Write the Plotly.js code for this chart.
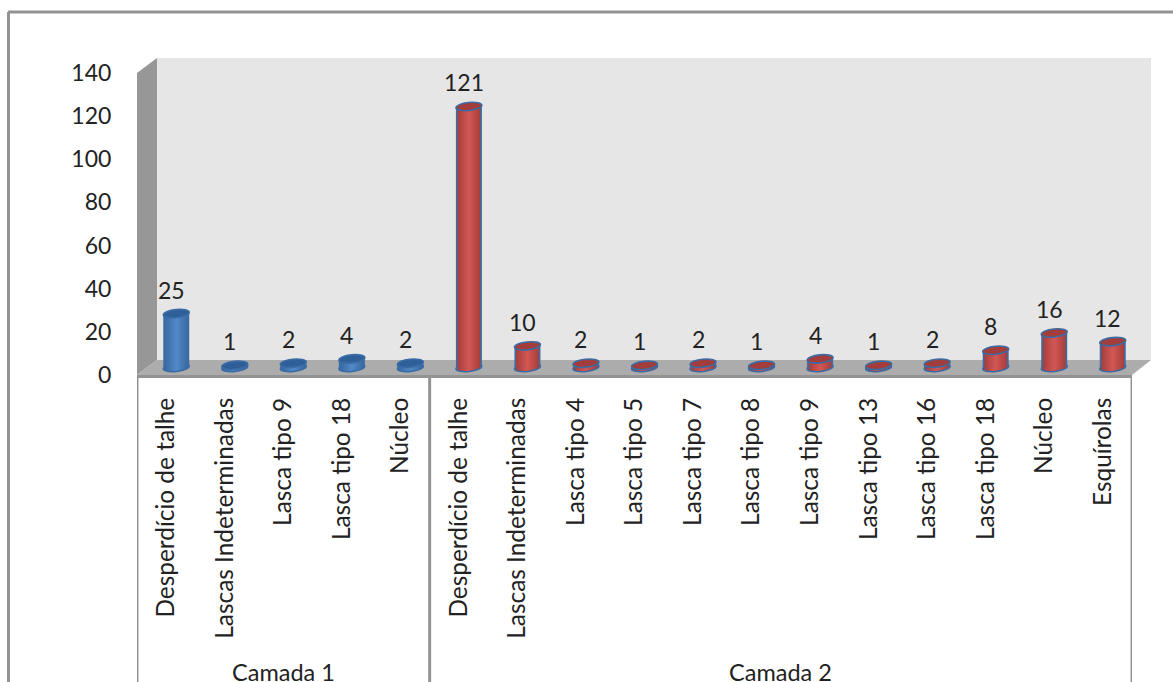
<!DOCTYPE html>
<html>
<head>
<meta charset="utf-8">
<script src="https://cdn.plot.ly/plotly-3.0.1.min.js"></script>
<style>html,body{margin:0;padding:0;background:#fff;overflow:hidden}</style>
</head>
<body>
<div id="chart" style="width:1173px;height:682px"></div>
<script>
// Lithic counts per stratigraphic layer
const layerNames = ["Camada 1", "Camada 2"];
const layer1Labels = ["Desperdício de talhe", "Lascas Indeterminadas", "Lasca tipo 9", "Lasca tipo 18", "Núcleo"];
const layer1Values = [25, 1, 2, 4, 2];
const layer2Labels = ["Desperdício de talhe", "Lascas Indeterminadas", "Lasca tipo 4", "Lasca tipo 5", "Lasca tipo 7", "Lasca tipo 8", "Lasca tipo 9", "Lasca tipo 13", "Lasca tipo 16", "Lasca tipo 18", "Núcleo", "Esquírolas"];
const layer2Values = [121, 10, 2, 1, 2, 1, 4, 1, 2, 8, 16, 12];
const axisTicks = [0, 20, 40, 60, 80, 100, 120, 140];

const W = 1173, H = 682;
const px = v => v / W;
const py = v => (H - v) / H;

const labels = layer1Labels.concat(layer2Labels);
const values = layer1Values.concat(layer2Values);
const indices = labels.map((_, i) => i);
const idx1 = layer1Values.map((_, i) => i);
const idx2 = layer2Values.map((_, i) => i + layer1Values.length);
const lastIndex = labels.length - 0.5;
const splitIndex = layer1Values.length - 0.5;

const font = "Lato, 'Open Sans', sans-serif";
const ink = "#222222";
const edgeGrey = "#939393";

// Tilted ellipse as a bezier path, in pixels around its anchor
function ellipsePath(rx, ry, deg) {
  const a = deg * Math.PI / 180, k = 0.5523;
  const p = (x, y) => (x * Math.cos(a) - y * Math.sin(a)).toFixed(2) + "," + (x * Math.sin(a) + y * Math.cos(a)).toFixed(2);
  return "M" + p(rx, 0) +
    "C" + p(rx, k * ry) + " " + p(k * rx, ry) + " " + p(0, ry) +
    "C" + p(-k * rx, ry) + " " + p(-rx, k * ry) + " " + p(-rx, 0) +
    "C" + p(-rx, -k * ry) + " " + p(-k * rx, -ry) + " " + p(0, -ry) +
    "C" + p(k * rx, -ry) + " " + p(rx, -k * ry) + " " + p(rx, 0) + "Z";
}
const capPath = ellipsePath(13, 4, 6);

function cap(i, v, fill, line, layer) {
  return {
    type: "path", path: capPath, layer: layer,
    xref: "x2", yref: "y2", xsizemode: "pixel", ysizemode: "pixel",
    xanchor: i, yanchor: v,
    fillcolor: fill, line: {color: line, width: 1.6}
  };
}

// Chart frame, the three walls of the 3D box, and the group separators
const frameShapes = [
  {type: "line", xref: "paper", yref: "paper", x0: px(8), x1: 1, y0: py(12), y1: py(12), line: {color: edgeGrey, width: 3}},
  {type: "line", xref: "paper", yref: "paper", x0: px(8.5), x1: px(8.5), y0: py(12), y1: 0, line: {color: edgeGrey, width: 3}},
  {type: "path", xref: "paper", yref: "paper", layer: "below", line: {width: 0}, fillcolor: "#e6e6e6",
   path: `M${px(157)},${py(58)}L${px(1151)},${py(58)}L${px(1151)},${py(360)}L${px(157)},${py(360)}Z`},
  {type: "path", xref: "paper", yref: "paper", layer: "below", line: {width: 0}, fillcolor: "#979797",
   path: `M${px(137)},${py(73)}L${px(157)},${py(58)}L${px(157)},${py(360)}L${px(137)},${py(375)}Z`},
  {type: "path", xref: "paper", yref: "paper", layer: "below", line: {width: 0}, fillcolor: "#acacac",
   path: `M${px(137)},${py(375)}L${px(157)},${py(360)}L${px(1151)},${py(360)}L${px(1132)},${py(375)}Z`}
].concat([-0.5, splitIndex, lastIndex].map(x => ({
  type: "line", xref: "x", yref: "paper", x0: x, x1: x, y0: py(375), y1: 0, line: {color: edgeGrey, width: 3}
})));

const blueLine = "#3a6ba5", blueTop = "#2f5f98", redLine = "#3d6aa0", redTop = "#a23d3b";
const bottomCaps = [];
const topCaps = [];
idx1.forEach(i => { bottomCaps.push(cap(i, 0, "#4f81bd", blueLine, "below")); topCaps.push(cap(i, values[i], blueTop, blueLine, "above")); });
idx2.forEach(i => { bottomCaps.push(cap(i, 0, "#c0504d", redLine, "below")); topCaps.push(cap(i, values[i], redTop, redLine, "above")); });
const shapes = frameShapes.concat(bottomCaps, topCaps);

const valueLabels = indices.map(i => ({
  xref: "x2", yref: "y2", x: i, y: values[i], text: String(values[i]), showarrow: false,
  xshift: -5, yshift: 24, yanchor: "middle", xanchor: "center", font: {family: font, size: 23, color: ink}
}));
const groupLabels = [
  {name: layerNames[0], x: (idx1[0] + idx1[idx1.length - 1]) / 2},
  {name: layerNames[1], x: (idx2[0] + idx2[idx2.length - 1]) / 2}
].map(g => ({
  xref: "x", yref: "paper", x: g.x, y: py(672), text: g.name, showarrow: false,
  yanchor: "middle", xanchor: "center", font: {family: font, size: 23.5, color: ink}
}));

const traces = [
  {type: "scatter", mode: "markers", x: indices, y: values, xaxis: "x", yaxis: "y", marker: {opacity: 0}, hoverinfo: "skip", showlegend: false},
  {type: "bar", name: layerNames[0], x: idx1, y: layer1Values, xaxis: "x2", yaxis: "y2", width: 26 / 58.53, marker: {color: "#4f81bd", line: {width: 0}}, showlegend: false},
  {type: "bar", name: layerNames[1], x: idx2, y: layer2Values, xaxis: "x2", yaxis: "y2", width: 26 / 58.53, marker: {color: "#c0504d", line: {width: 0}}, showlegend: false}
];

// The column axis runs a little below zero so the rounded bases are not clipped
const pxPerUnit = (367.5 - 65.5) / 140;
const belowZero = 5;

const layout = {
  width: W, height: H, margin: {l: 0, r: 0, t: 0, b: 0}, autosize: false,
  paper_bgcolor: "#ffffff", plot_bgcolor: "rgba(0,0,0,0)", showlegend: false, barmode: "overlay",
  xaxis: {
    domain: [px(137), px(1132)], range: [-0.5, lastIndex], anchor: "y",
    tickmode: "array", tickvals: indices, ticktext: labels, tickangle: -90,
    ticks: "outside", ticklen: 10, tickcolor: "rgba(0,0,0,0)",
    tickfont: {family: font, size: 24.4, color: ink},
    showgrid: false, zeroline: false, showline: true, linecolor: edgeGrey, linewidth: 3, automargin: false
  },
  yaxis: {
    domain: [py(375), py(73)], range: [0, 140], anchor: "x",
    tickmode: "array", tickvals: axisTicks,
    ticks: "outside", ticklen: 20, tickcolor: "rgba(0,0,0,0)",
    tickfont: {family: font, size: 23, color: ink},
    showgrid: false, zeroline: false, showline: false, automargin: false
  },
  xaxis2: {domain: [px(147), px(1142)], range: [-0.5, lastIndex], anchor: "y2", visible: false},
  yaxis2: {domain: [py(367.5 + belowZero * pxPerUnit), py(65.5)], range: [-belowZero, 140], anchor: "x2", visible: false},
  shapes: shapes, annotations: valueLabels.concat(groupLabels)
};

// Horizontal shading that gives the columns a rounded look
function addGradient(svg, id, stops) {
  const ns = "http://www.w3.org/2000/svg";
  let defs = svg.querySelector("defs");
  const g = document.createElementNS(ns, "linearGradient");
  g.setAttribute("id", id);
  stops.forEach(s => {
    const st = document.createElementNS(ns, "stop");
    st.setAttribute("offset", s[0]);
    st.setAttribute("stop-color", s[1]);
    g.appendChild(st);
  });
  defs.appendChild(g);
}

Plotly.newPlot("chart", traces, layout, {staticPlot: true, displayModeBar: false}).then(gd => {
  const svg = gd.querySelector(".main-svg");
  addGradient(svg, "blueCyl", [[0, "#3a6ba5"], [0.05, "#3a6ba5"], [0.1, "#3d6ca4"], [0.5, "#5089c9"], [0.9, "#3d6ca4"], [0.95, "#3a6ba5"], [1, "#3a6ba5"]]);
  addGradient(svg, "redCyl", [[0, "#3d6aa0"], [0.05, "#3d6aa0"], [0.08, "#a83f3d"], [0.5, "#d25754"], [0.92, "#a83f3d"], [0.95, "#3d6aa0"], [1, "#3d6aa0"]]);
  const barTraces = gd.querySelectorAll(".barlayer .trace");
  barTraces.forEach((t, n) => {
    const id = n === 0 ? "blueCyl" : "redCyl";
    t.querySelectorAll(".point path").forEach(p => { p.style.fill = "url(#" + id + ")"; });
  });
  gd.querySelectorAll(".shapelayer path[data-index]").forEach(p => {
    const k = +p.getAttribute("data-index") - frameShapes.length;
    if (k >= 0 && k < bottomCaps.length) {
      p.style.fill = "url(#" + (k < idx1.length ? "blueCyl" : "redCyl") + ")";
    }
  });
});
</script>
</body>
</html>
